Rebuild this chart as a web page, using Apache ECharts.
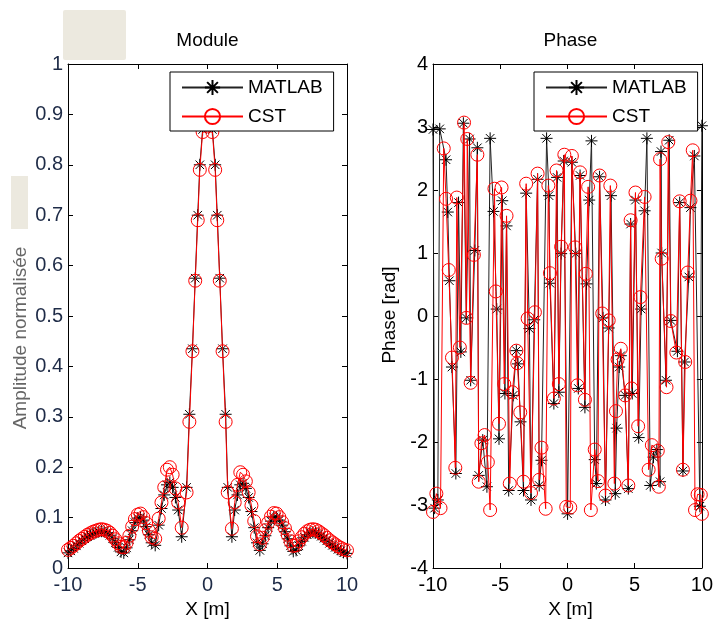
<!DOCTYPE html>
<html>
<head>
<meta charset="utf-8">
<script src="https://cdn.jsdelivr.net/npm/echarts@6/dist/echarts.min.js"></script>
<style>html,body{margin:0;padding:0;background:#fff}#c{width:716px;height:620px}</style>
</head>
<body>
<div id="c"></div>
<script>
// ---------- DATA ----------
const xTicks = [-10, -5, 0, 5, 10];
const moduleX = [
  -10,-9.8,-9.6,-9.4,-9.2,-9,-8.8,-8.6,-8.4,-8.2,-8,-7.8,-7.6,-7.4,-7.2,-7,-6.8,-6.6,-6.4,-6.2,-6,-5.8,-5.6,-5.4,-5.2,-5,-4.8,-4.6,-4.4,-4.2,-4,
  -3.75,-3.5,-3.3,-3.1,-2.9,-2.7,-2.5,-2.3,-2.1,-1.85,-1.5,-1.3,-1.08,-0.88,-0.7,-0.55,-0.35,
  0.35,0.55,0.7,0.88,1.08,1.3,1.45,1.75,1.95,2.15,2.35,2.55,2.75,2.95,3.15,3.35,3.55,3.75,
  3.95,4.15,4.35,4.55,4.75,4.95,5.15,5.35,5.55,5.75,5.95,6.15,6.35,6.55,6.75,6.95,7.15,7.35,7.55,7.75,7.95,8.15,8.35,8.55,8.75,8.95,9.15,9.35,9.55,9.75,10
];
const moduleCST = [
  0.036,0.040,0.044,0.049,0.054,0.058,0.062,0.066,0.069,0.072,0.074,0.076,0.077,0.076,0.074,0.070,0.064,0.057,0.049,0.042,0.041,0.050,0.064,0.082,0.097,0.106,0.108,0.101,0.089,0.074,0.061,
  0.058,0.098,0.130,0.160,0.195,0.200,0.185,0.158,0.130,0.080,0.150,0.290,0.430,0.570,0.690,0.790,0.865,
  0.865,0.790,0.690,0.570,0.430,0.290,0.150,0.078,0.130,0.165,0.190,0.185,0.172,0.150,0.124,0.093,0.063,0.047,
  0.060,0.075,0.090,0.102,0.109,0.108,0.101,0.091,0.079,0.066,0.053,0.044,0.045,0.053,0.061,0.068,0.073,0.076,0.077,0.076,0.073,0.069,0.065,0.060,0.055,0.051,0.047,0.043,0.040,0.037,0.035
];
const moduleMATLAB = [
  0.030,0.034,0.039,0.044,0.049,0.054,0.058,0.062,0.065,0.068,0.070,0.072,0.073,0.072,0.070,0.065,0.058,0.050,0.041,0.032,0.030,0.040,0.056,0.074,0.090,0.099,0.101,0.095,0.082,0.066,0.050,
  0.045,0.085,0.118,0.145,0.165,0.170,0.160,0.140,0.115,0.062,0.160,0.305,0.435,0.575,0.700,0.800,0.870,
  0.870,0.800,0.700,0.575,0.435,0.305,0.160,0.062,0.115,0.145,0.165,0.168,0.158,0.140,0.112,0.080,0.050,0.035,
  0.048,0.064,0.080,0.093,0.101,0.101,0.095,0.085,0.072,0.058,0.044,0.033,0.035,0.044,0.053,0.061,0.066,0.070,0.071,0.070,0.067,0.063,0.059,0.054,0.049,0.045,0.041,0.037,0.034,0.031,0.029
];
const phaseXMATLAB = [
  -10,-9.88,-9.64,-9.5,-9.03,-8.9,-8.78,-8.59,-8.3,-8.1,-7.93,-7.74,-7.52,-7.28,-7.2,-6.89,-6.7,-6.6,-6.3,-5.99,
  -5.75,-5.5,-5.26,-5.09,-4.85,-4.65,-4.53,-4.37,-4.04,-3.8,-3.68,-3.49,-3.27,-3.07,-2.83,-2.71,-2.47,-2.22,-2.1,-1.93,
  -1.55,-1.37,-1.3,-1.01,-0.77,-0.64,-0.47,-0.28,0.01,0.33,0.62,0.81,0.94,1.3,1.42,1.62,1.79,2.03,2.15,2.39,
  2.64,2.83,3.07,3.24,3.56,3.66,3.85,3.97,4.29,4.53,4.7,4.82,5.06,5.3,5.48,5.74,5.91,6.16,6.4,6.65,
  6.89,6.96,7.01,7.33,7.57,7.69,8.18,8.35,8.59,8.71,9.03,9.15,9.44,9.85,10
];
const phaseMATLAB = [
  2.96,-3.05,-2.92,2.97,2.48,1.65,0.56,-0.81,-2.5,1.80,-0.57,3.06,-0.03,2.81,-1.02,1.04,2.67,-2.53,-1.97,-2.71,
  2.82,1.66,0.11,-1.95,1.83,-1.23,1.43,-2.77,-1.26,-0.55,-0.76,-1.68,-2.77,1.95,-0.2,-2.92,-0.06,2.17,-2.69,-2.29,
  2.82,1.91,0.52,-1.39,2.2,-1.21,0.99,2.46,-3.14,2.44,0.99,-1.15,2.23,-1.45,0.51,1.84,2.78,-2.28,-2.66,2.21,
  -0.03,-2.92,-0.19,1.91,-2.82,-1.78,-0.81,-0.63,-1.26,-2.74,1.46,-1.23,1.84,-1.93,0.11,1.67,2.82,-2.69,-2.24,-2.12,
  -2.63,2.61,1.0,-1.02,2.79,-0.07,-0.56,1.80,-2.46,-0.73,0.62,1.72,2.54,-3.02,3.02
];
const phaseXCST = [
  -10,-9.75,-9.44,-9.2,-9.03,-8.83,-8.59,-8.34,-8.23,-8.0,-7.69,-7.52,-7.45,-7.2,-6.96,-6.7,-6.6,-6.4,-6.16,-5.92,
  -5.75,-5.43,-5.33,-5.09,-4.9,-4.7,-4.53,-4.29,-4.1,-3.8,-3.73,-3.51,-3.27,-3.07,-2.96,-2.71,-2.42,-2.22,-2.1,-1.93,
  -1.62,-1.42,-1.3,-1.01,-0.81,-0.64,-0.47,-0.23,-0.09,0.21,0.33,0.57,0.74,0.94,1.3,1.37,1.54,1.74,2.03,2.27,
  2.39,2.59,2.83,3.07,3.19,3.49,3.61,3.73,3.97,4.29,4.53,4.7,4.77,5.06,5.26,5.43,5.74,6.04,6.28,6.72,
  6.8,6.89,7.01,7.37,7.5,7.69,8.1,8.35,8.59,8.76,8.95,9.15,9.32,9.49,9.68,9.92,10
];
const phaseCST = [
  -3.11,-2.82,-3.05,2.66,1.86,0.73,-0.66,-2.41,1.88,-0.5,3.07,-0.03,2.81,-1.06,0.97,2.56,-2.63,-2.02,-1.89,-2.32,
  -3.08,2.02,0.39,-1.71,2.04,-1.08,1.59,-2.66,-1.21,-0.55,-0.75,-1.53,-2.63,2.1,-0.04,-2.81,0.06,2.26,-2.6,-2.09,
  -3.06,2.07,0.68,-1.31,2.31,-1.08,1.1,2.56,-3.03,-3.04,2.54,1.09,-1.1,2.28,-1.33,0.67,2.05,-3.08,-2.12,-2.62,
  2.23,0.04,-2.85,-0.07,2.07,-2.66,-1.51,-0.69,-0.52,-1.26,-2.69,1.52,-1.15,1.96,-1.75,0.3,1.89,-2.44,-2.05,-2.14,
  -2.71,2.49,0.91,-1.13,2.76,-0.08,-0.58,1.82,-2.44,-0.73,0.69,1.83,2.63,-3.08,-2.83,-2.84,-3.14
];

// ---------- CHART ----------
const FONT = '"Liberation Sans", Arial, sans-serif';
const pairs = (xs, ys) => xs.map((x, i) => [x, ys[i]]);
const ASTER = 'path://M12 0L12 24M0 12L24 12M3.5 3.5L20.5 20.5M20.5 3.5L3.5 20.5';

function matlabSeries(name, data, xi, yi) {
  return {
    name, type: 'line', data, xAxisIndex: xi, yAxisIndex: yi,
    symbol: ASTER, symbolSize: 12, showSymbol: true,
    color: '#000',
    lineStyle: { color: '#222', width: 1 },
    itemStyle: { color: 'rgba(0,0,0,0)', borderColor: '#000', borderWidth: 1 },
    emphasis: { disabled: true }, z: 2
  };
}
function cstSeries(name, data, xi, yi) {
  return {
    name, type: 'line', data, xAxisIndex: xi, yAxisIndex: yi,
    symbol: 'circle', symbolSize: 13, showSymbol: true,
    color: '#ff0000',
    lineStyle: { color: '#ff0000', width: 1 },
    itemStyle: { color: 'rgba(0,0,0,0)', borderColor: '#ff0000', borderWidth: 1 },
    emphasis: { disabled: true }, z: 3
  };
}

function xAx(grid, labelColor, top) {
  return {
    type: 'value', gridIndex: grid, min: -10, max: 10, interval: 5,
    position: top ? 'top' : 'bottom',
    axisLine: { show: true, onZero: false, lineStyle: { color: '#000', width: 1 } },
    axisTick: { show: true, inside: true, length: 5, lineStyle: { color: '#000' } },
    axisLabel: { show: !top, margin: 7, fontSize: 20, fontFamily: FONT, color: labelColor },
    splitLine: { show: false }
  };
}
function yAx(grid, min, max, interval, labelColor, right) {
  return {
    type: 'value', gridIndex: grid, min, max, interval,
    position: right ? 'right' : 'left',
    axisLine: { show: true, onZero: false, lineStyle: { color: '#000', width: 1 } },
    axisTick: { show: true, inside: true, length: 5, lineStyle: { color: '#000' } },
    axisLabel: { show: !right, margin: 5, fontSize: 20, fontFamily: FONT, color: labelColor },
    splitLine: { show: false }
  };
}
function legend(left) {
  return {
    data: ['MATLAB', 'CST'], left, top: 72, orient: 'vertical',
    padding: [6, 11, 5, 11], itemGap: 10, itemWidth: 61, itemHeight: 19,
    borderColor: '#000', borderWidth: 1, backgroundColor: '#fff',
    textStyle: { fontSize: 19, fontFamily: FONT, color: '#000' },
    selectedMode: false
  };
}
function txt(x, y, text, opts) {
  return Object.assign({
    type: 'text', x, y, silent: true,
    style: { text, fontSize: 19, fontFamily: FONT, fill: '#000', align: 'center', verticalAlign: 'middle', textAlign: 'center', textVerticalAlign: 'middle' }
  }, opts || {});
}

const chart = echarts.init(document.getElementById('c'), null, { renderer: 'canvas' });
chart.setOption({
  animation: false,
  backgroundColor: '#fff',
  grid: [
    { left: 68, right: 369, top: 64, bottom: 52 },
    { left: 433, right: 9, top: 64, bottom: 52 }
  ],
  xAxis: [xAx(0, '#1e2b47', false), xAx(0, '#000', true), xAx(1, '#000', false), xAx(1, '#000', true)],
  yAxis: [yAx(0, 0, 1, 0.1, '#1e2b47', false), yAx(0, 0, 1, 0.1, '#000', true),
          yAx(1, -4, 4, 1, '#000', false), yAx(1, -4, 4, 1, '#000', true)],
  legend: [legend(170), legend(534)],
  series: [
    matlabSeries('MATLAB', pairs(moduleX, moduleMATLAB), 0, 0),
    cstSeries('CST', pairs(moduleX, moduleCST), 0, 0),
    matlabSeries('MATLAB', pairs(phaseXMATLAB, phaseMATLAB), 2, 2),
    cstSeries('CST', pairs(phaseXCST, phaseCST), 2, 2)
  ],
  graphic: [
    { type: 'rect', shape: { x: 63, y: 10, width: 63, height: 50, r: 2 }, style: { fill: '#ece9df' }, silent: true },
    { type: 'rect', shape: { x: 11, y: 176, width: 17, height: 53 }, style: { fill: '#ece9df' }, silent: true },
    txt(207.5, 41, 'Module'),
    txt(570.5, 41, 'Phase'),
    txt(207.5, 610, 'X [m]'),
    txt(570.5, 610, 'X [m]'),
    txt(21, 338, 'Amplitude normalisée', { rotation: Math.PI / 2, style: { text: 'Amplitude normalisée', fontSize: 19, fontFamily: FONT, fill: '#666', align: 'center', verticalAlign: 'middle', textAlign: 'center', textVerticalAlign: 'middle' } }),
    txt(390, 315, 'Phase [rad]', { rotation: Math.PI / 2 })
  ]
});
</script>
</body>
</html>
